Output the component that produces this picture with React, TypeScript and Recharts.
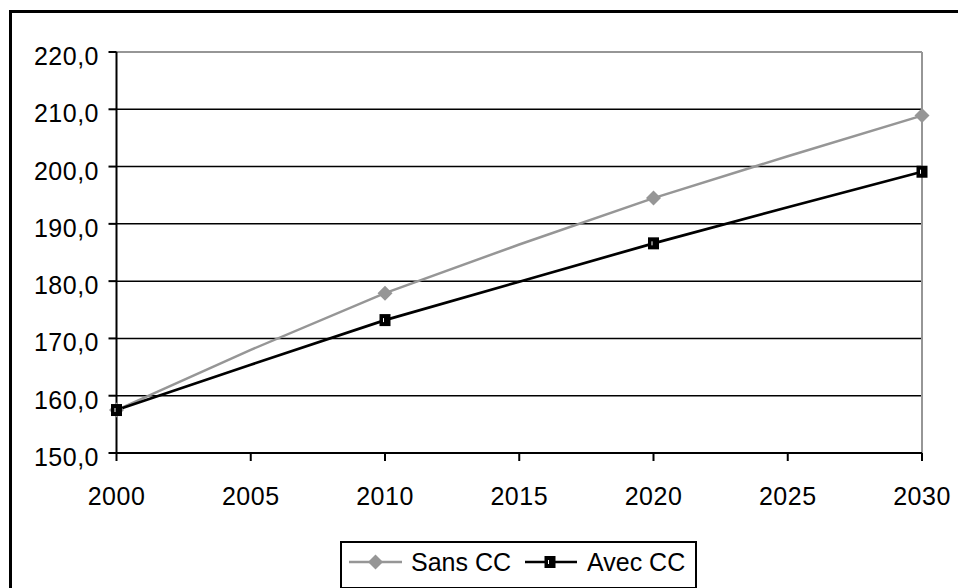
import React from 'react';
import { LineChart, Line, XAxis, YAxis, CartesianGrid, ReferenceLine } from 'recharts';

const years = [2000, 2005, 2010, 2015, 2020, 2025, 2030];
const sansCC = [157.5, 168.0, 177.9, 186.4, 194.5, 201.8, 208.9];
const avecCC = [157.5, 165.4, 173.2, 179.9, 186.6, 192.9, 199.1];
const xTicks = [2000, 2005, 2010, 2015, 2020, 2025, 2030];
const yTicks = [150, 160, 170, 180, 190, 200, 210, 220];
const seriesNames = ['Sans CC', 'Avec CC'];
const markerYears = [2000, 2010, 2020, 2030];

const data = years.map((y, i) => ({ year: y, sans: sansCC[i], avec: avecCC[i] }));

const FONT = '"Liberation Sans", Arial, sans-serif';
const GREY = '#969696';

const fmt = (v: number) => v.toFixed(1).replace('.', ',');

const YTick = (props: any) => {
  const { x, y, payload } = props;
  return (
    <text x={x - 9.5} y={y + 13} textAnchor="end" fontSize={25} fill="#000" fontFamily={FONT} letterSpacing={0.5}>
      {fmt(payload.value)}
    </text>
  );
};

const XTick = (props: any) => {
  const { x, y, payload } = props;
  return (
    <text x={x} y={y + 44} textAnchor="middle" fontSize={25} fill="#000" fontFamily={FONT} letterSpacing={0.5}>
      {String(payload.value)}
    </text>
  );
};

const Diamond = ({ cx, cy }: { cx: number; cy: number }) => (
  <polygon points={`${cx},${cy - 7.5} ${cx + 7.5},${cy} ${cx},${cy + 7.5} ${cx - 7.5},${cy}`} fill={GREY} />
);

const Square = ({ cx, cy }: { cx: number; cy: number }) => (
  <g>
    <rect x={cx - 5.5} y={cy - 6} width={11} height={12} fill="#000" />
    <rect x={cx - 2} y={cy - 2} width={1} height={4} fill="#fff" />
  </g>
);

const sansDot = (props: any) => {
  const { cx, cy, payload, index } = props;
  if (!markerYears.includes(payload.year)) return <g key={`s${index}`} />;
  return <g key={`s${index}`}><Diamond cx={cx} cy={cy} /></g>;
};

const avecDot = (props: any) => {
  const { cx, cy, payload, index } = props;
  if (!markerYears.includes(payload.year)) return <g key={`a${index}`} />;
  return <g key={`a${index}`}><Square cx={cx} cy={cy} /></g>;
};

export default function App() {
  return (
    <div
      style={{
        position: 'fixed',
        left: 0,
        top: 0,
        width: 958,
        height: 588,
        background: '#fff',
        overflow: 'hidden',
        fontFamily: FONT,
      }}
    >
      <div style={{ position: 'absolute', left: 9, top: 10, width: 3, height: 578, background: '#000' }} />
      <div style={{ position: 'absolute', left: 9, top: 10, width: 949, height: 3, background: '#000' }} />
      <div style={{ position: 'absolute', left: 0, top: 0 }}>
        <LineChart
          width={958}
          height={588}
          data={data}
          margin={{ top: 52, right: 36, bottom: 75, left: 16.5 }}
        >
          <CartesianGrid vertical={false} stroke="#000" strokeWidth={1.5} />
          <XAxis
            dataKey="year"
            type="number"
            domain={[2000, 2030]}
            ticks={xTicks}
            height={60}
            tickSize={8}
            tickMargin={0}
            axisLine={{ stroke: '#000', strokeWidth: 2 }}
            tickLine={{ stroke: '#000', strokeWidth: 2 }}
            tick={<XTick />}
            interval={0}
          />
          <YAxis
            type="number"
            domain={[150, 220]}
            ticks={yTicks}
            width={100}
            tickSize={8}
            tickMargin={0}
            axisLine={{ stroke: '#000', strokeWidth: 2 }}
            tickLine={{ stroke: '#000', strokeWidth: 2 }}
            tick={<YTick />}
            interval={0}
          />
          <ReferenceLine y={220} stroke={GREY} strokeWidth={2} />
          <ReferenceLine x={2030} stroke={GREY} strokeWidth={2} />
          <Line
            dataKey="sans"
            name={seriesNames[0]}
            type="linear"
            stroke={GREY}
            strokeWidth={2.5}
            dot={sansDot}
            activeDot={false}
            isAnimationActive={false}
          />
          <Line
            dataKey="avec"
            name={seriesNames[1]}
            type="linear"
            stroke="#000"
            strokeWidth={2.7}
            dot={avecDot}
            activeDot={false}
            isAnimationActive={false}
          />
        </LineChart>
      </div>
      <svg
        style={{ position: 'absolute', left: 340, top: 541 }}
        width={357}
        height={47}
      >
        <rect x={1} y={1} width={355} height={46} fill="#fff" stroke="#000" strokeWidth={2} />
        <line x1={9} y1={21} x2={62} y2={21} stroke={GREY} strokeWidth={2.5} />
        <Diamond cx={35.5} cy={21} />
        <text x={71} y={30} fontSize={25} fill="#000" fontFamily={FONT}>{seriesNames[0]}</text>
        <line x1={185} y1={21} x2={237} y2={21} stroke="#000" strokeWidth={2.7} />
        <Square cx={210} cy={21} />
        <text x={247} y={30} fontSize={25} fill="#000" fontFamily={FONT}>{seriesNames[1]}</text>
      </svg>
    </div>
  );
}
